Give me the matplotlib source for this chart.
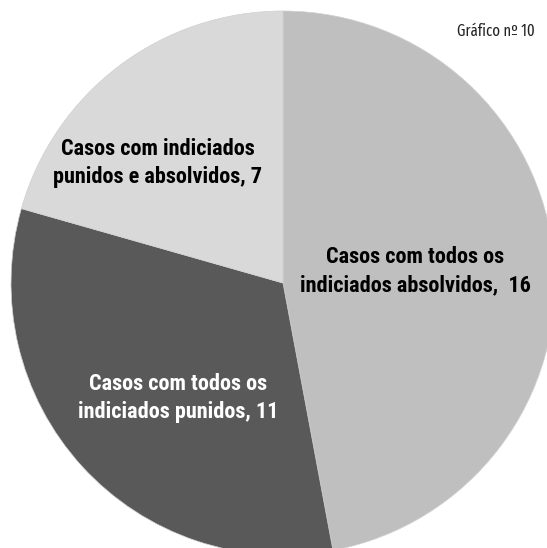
import matplotlib.pyplot as plt

# Casos por resultado
categorias = ["Casos com todos os\nindiciados absolvidos,  ",
              "Casos com todos os\nindiciados punidos, ",
              "Casos com indiciados\npunidos e absolvidos, "]
valores = [16, 11, 7]
cores = ["#bfbfbf", "#595959", "#d9d9d9"]
cores_texto = ["black", "white", "black"]

fonte = ["Roboto Condensed", "DejaVu Sans"]

fig = plt.figure(figsize=(5.47, 5.48), dpi=100)
ax = fig.add_axes([0, 0, 1, 1])
ax.pie(valores, colors=cores, startangle=90, counterclock=False,
       center=(283, 265), radius=272,
       wedgeprops=dict(linewidth=0.5, edgecolor="#d0d0d0"))
ax.set_xlim(0, 547)
ax.set_ylim(0, 548)
ax.set_aspect("auto")
ax.axis("off")

# posições dos rótulos (x, y) em pixels
pos = [(415, 277), (178, 150), (158, 385)]
for cat, v, (x, y), c in zip(categorias, valores, pos, cores_texto):
    ax.text(x, y, cat + str(v), ha="center", va="center", fontsize=16,
            fontweight="bold", family=fonte, color=c, linespacing=1.35)

ax.text(535, 517, "Gráfico nº 10", ha="right", va="center", fontsize=11.5,
        family=["Fira Sans Extra Condensed", "DejaVu Sans"], color="#222222")

fig.savefig("out.png", dpi=100)
